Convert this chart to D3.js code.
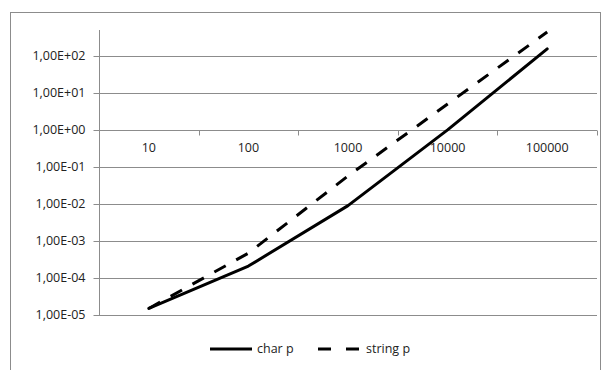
<!DOCTYPE html>
<html>
<head>
<meta charset="utf-8">
<script src="https://cdn.jsdelivr.net/npm/d3@7"></script>
<style>
  body { margin: 0; background: #fff; }
  svg text { font-family: "Open Sans", "Liberation Sans", sans-serif; font-size: 12.5px; fill: #222; }
</style>
</head>
<body>
<svg id="chart" width="603" height="370"></svg>
<script>
// data
const categories = ['10', '100', '1000', '10000', '100000']
const charP = [1.5e-5, 2.1e-4, 9e-3, 1.0, 155]
const stringP = [1.5e-5, 4.7e-4, 0.057, 5.0, 440]
const yTicks = [1e-5, 1e-4, 1e-3, 1e-2, 1e-1, 1e0, 1e1, 1e2]

const gridColor = '#8c8c8c'
const svg = d3.select('#chart')

// outer frame
svg.append('rect')
  .attr('x', 10.5).attr('y', 12.5)
  .attr('width', 590).attr('height', 370)
  .attr('fill', 'none').attr('stroke', gridColor)

const plot = { left: 99, right: 597, top: 30, bottom: 315 }

const x = d3.scaleBand()
  .domain(categories)
  .range([plot.left, plot.right])

const y = d3.scaleLog()
  .domain([1e-5, 500])
  .range([plot.bottom, plot.top])

// excel-ish number format: 1,00E+02
const fmt = v => {
  const e = Math.round(Math.log10(v))
  const s = e < 0 ? '-' : '+'
  return `1,00E${s}${String(Math.abs(e)).padStart(2, '0')}`
}

// horizontal gridlines
svg.append('g').selectAll('line')
  .data(yTicks)
  .enter().append('line')
  .attr('x1', plot.left).attr('x2', plot.right)
  .attr('y1', d => Math.round(y(d)) + 0.5)
  .attr('y2', d => Math.round(y(d)) + 0.5)
  .attr('stroke', gridColor)

// y axis
const yAxis = svg.append('g')
  .attr('transform', `translate(${plot.left + 0.5},0)`)
yAxis.append('line')
  .attr('y1', plot.top).attr('y2', plot.bottom + 0.5)
  .attr('stroke', gridColor)
yAxis.selectAll('.tick')
  .data(yTicks)
  .enter().append('line')
  .attr('x1', -6).attr('x2', 0)
  .attr('y1', d => Math.round(y(d)) + 0.5)
  .attr('y2', d => Math.round(y(d)) + 0.5)
  .attr('stroke', gridColor)
yAxis.selectAll('text')
  .data(yTicks)
  .enter().append('text')
  .attr('x', -14)
  .attr('y', d => y(d))
  .attr('dy', '.35em')
  .attr('text-anchor', 'end')
  .text(fmt)

// category axis crossing at 1
const xAxisY = Math.round(y(1)) + 0.5
const boundaries = categories.map(c => x(c)).concat([plot.right])
svg.append('g').selectAll('line')
  .data(boundaries)
  .enter().append('line')
  .attr('x1', d => Math.round(d) + 0.5).attr('x2', d => Math.round(d) + 0.5)
  .attr('y1', xAxisY).attr('y2', xAxisY + 5)
  .attr('stroke', gridColor)
svg.append('g').selectAll('text')
  .data(categories)
  .enter().append('text')
  .attr('x', d => x(d) + x.bandwidth() / 2)
  .attr('y', xAxisY + 17)
  .attr('dy', '.35em')
  .attr('text-anchor', 'middle')
  .text(d => d)

// series lines
const line = d3.line()
  .x((d, i) => x(categories[i]) + x.bandwidth() / 2)
  .y(d => y(d))

svg.append('path')
  .datum(stringP)
  .attr('d', line)
  .attr('fill', 'none')
  .attr('stroke', '#000')
  .attr('stroke-width', 3)
  .attr('stroke-dasharray', '13,12')
  .attr('stroke-linejoin', 'round')

svg.append('path')
  .datum(charP)
  .attr('d', line)
  .attr('fill', 'none')
  .attr('stroke', '#000')
  .attr('stroke-width', 3)
  .attr('stroke-linejoin', 'round')
  .attr('stroke-linecap', 'round')

// legend
const legend = svg.append('g').attr('transform', 'translate(0,349)')
legend.append('line')
  .attr('x1', 210).attr('x2', 252)
  .attr('stroke', '#000').attr('stroke-width', 3)
legend.append('text')
  .attr('x', 257).attr('dy', '.35em')
  .text('char p')
legend.append('line')
  .attr('x1', 318).attr('x2', 360)
  .attr('stroke', '#000').attr('stroke-width', 3)
  .attr('stroke-dasharray', '13,15')
legend.append('text')
  .attr('x', 366).attr('dy', '.35em')
  .text('string p')
</script>
</body>
</html>
